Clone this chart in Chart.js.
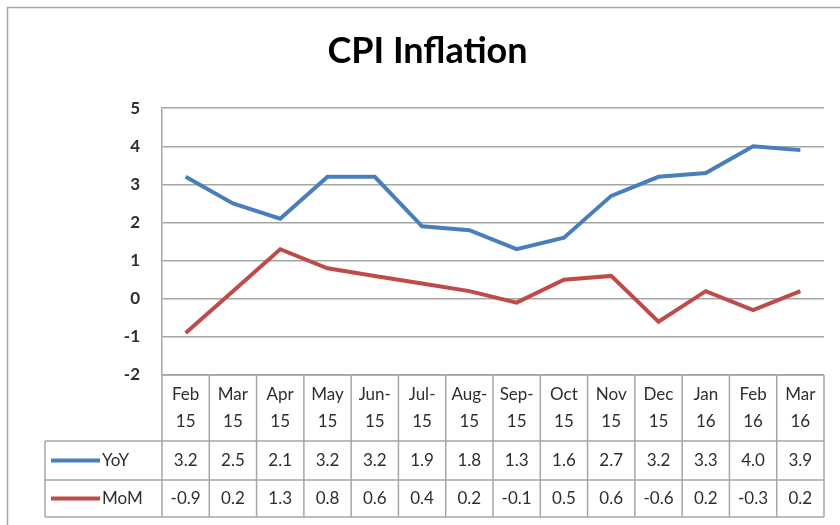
<!DOCTYPE html>
<html lang="en">
<head>
    <meta charset="UTF-8">
    <title>CPI Inflation</title>
    <script src="https://cdn.jsdelivr.net/npm/chart.js"></script>
    <style>
        body { margin: 0; background: white; }
        #wrap { width: 840px; height: 525px; }
    </style>
</head>
<body>
    <div id="wrap"><canvas id="cpiChart" width="840" height="525"></canvas></div>

    <script>
        // months shown in the data table (two lines each)
        const months = [
            ['Feb', '15'], ['Mar', '15'], ['Apr', '15'], ['May', '15'], ['Jun-', '15'],
            ['Jul-', '15'], ['Aug-', '15'], ['Sep-', '15'], ['Oct', '15'], ['Nov', '15'],
            ['Dec', '15'], ['Jan', '16'], ['Feb', '16'], ['Mar', '16']
        ];
        const yoy = [3.2, 2.5, 2.1, 3.2, 3.2, 1.9, 1.8, 1.3, 1.6, 2.7, 3.2, 3.3, 4.0, 3.9];
        const mom = [-0.9, 0.2, 1.3, 0.8, 0.6, 0.4, 0.2, -0.1, 0.5, 0.6, -0.6, 0.2, -0.3, 0.2];
        const yTicks = [5, 4, 3, 2, 1, 0, -1, -2];

        const blue = '#4a7ebb';
        const red = '#be4b48';
        const gridGray = '#a6a6a6';
        const textColor = '#2e2e2e';
        const fontFamily = 'Lato, "Open Sans", sans-serif';

        // draws the outer frame and the data table under the plot
        const dataTable = {
            id: 'dataTable',
            beforeDraw(chart) {
                const ctx = chart.ctx;
                ctx.save();
                ctx.fillStyle = 'white';
                ctx.fillRect(0, 0, chart.width, chart.height);
                ctx.strokeStyle = gridGray;
                ctx.lineWidth = 1.5;
                ctx.strokeRect(7.5, 7.5, 900, 600);
                ctx.restore();
            },
            afterDraw(chart) {
                const ctx = chart.ctx;
                const area = chart.chartArea;
                const x = chart.scales.x;
                const colW = (area.right - area.left) / months.length;
                const top = area.bottom;
                const row1 = top + 66;
                const row2 = row1 + 39;
                const bottom = row2 + 37;
                const legendLeft = 45;

                ctx.save();
                ctx.strokeStyle = gridGray;
                ctx.lineWidth = 1.5;
                ctx.beginPath();
                // horizontal lines
                ctx.moveTo(area.left, top); ctx.lineTo(area.right, top);
                [row1, row2, bottom].forEach(yy => {
                    ctx.moveTo(legendLeft, yy); ctx.lineTo(area.right, yy);
                });
                // vertical lines
                for (let i = 0; i <= months.length; i++) {
                    const xx = area.left + i * colW;
                    ctx.moveTo(xx, top); ctx.lineTo(xx, bottom);
                }
                ctx.moveTo(legendLeft, row1); ctx.lineTo(legendLeft, bottom);
                ctx.stroke();

                ctx.fillStyle = textColor;
                ctx.font = '17px ' + fontFamily;
                ctx.textAlign = 'center';
                ctx.textBaseline = 'middle';
                months.forEach((m, i) => {
                    const cx = x.getPixelForValue(i);
                    ctx.fillText(m[0], cx, top + 20);
                    ctx.fillText(m[1], cx, top + 47);
                    ctx.fillText(yoy[i].toFixed(1), cx, (row1 + row2) / 2);
                    ctx.fillText(mom[i].toFixed(1), cx, (row2 + bottom) / 2);
                });

                // legend keys in the first column
                const keys = [['YoY', blue, (row1 + row2) / 2], ['MoM', red, (row2 + bottom) / 2]];
                keys.forEach(k => {
                    ctx.strokeStyle = k[1];
                    ctx.lineWidth = 4;
                    ctx.beginPath();
                    ctx.moveTo(51, k[2]); ctx.lineTo(100, k[2]);
                    ctx.stroke();
                    ctx.textAlign = 'left';
                    ctx.fillText(k[0], 102, k[2]);
                });
                ctx.restore();
            }
        };

        new Chart(document.getElementById('cpiChart'), {
            type: 'line',
            data: {
                labels: months.map(m => m.join(' ')),
                datasets: [
                    { label: 'YoY', data: yoy, borderColor: blue, borderWidth: 4, pointRadius: 0, tension: 0 },
                    { label: 'MoM', data: mom, borderColor: red, borderWidth: 4, pointRadius: 0, tension: 0 }
                ]
            },
            options: {
                responsive: false,
                animation: false,
                layout: { padding: { left: 31, right: 16, top: 0, bottom: 150 } },
                plugins: {
                    legend: { display: false },
                    tooltip: { enabled: false },
                    title: {
                        display: true,
                        text: 'CPI Inflation',
                        color: '#000',
                        font: { family: fontFamily, size: 36, weight: 'bold' },
                        padding: { top: 30, bottom: 35 }
                    }
                },
                scales: {
                    x: {
                        offset: true,
                        grid: { display: false },
                        border: { display: false },
                        ticks: { display: false },
                        afterFit(scale) { scale.height = 0; }
                    },
                    y: {
                        min: -2,
                        max: 5,
                        afterBuildTicks(scale) { scale.ticks = yTicks.map(v => ({ value: v })); },
                        afterFit(scale) { scale.width = 131; },
                        grid: { color: gridGray, lineWidth: 1.5, drawTicks: false },
                        border: { color: gridGray, width: 1.5 },
                        ticks: {
                            color: textColor,
                            padding: 22,
                            font: { family: fontFamily, size: 17, weight: 'bold' }
                        }
                    }
                }
            },
            plugins: [dataTable]
        });
    </script>
</body>
</html>
